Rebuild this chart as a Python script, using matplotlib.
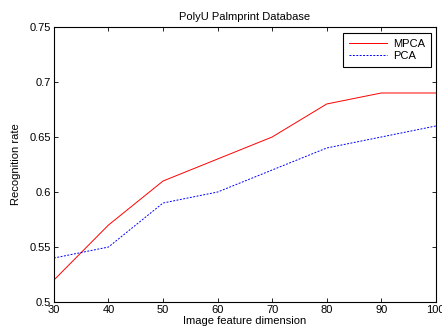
import matplotlib
matplotlib.use("Agg")
import matplotlib.pyplot as plt

dims = [30, 40, 50, 60, 70, 80, 90, 100]
mpca = [0.52, 0.57, 0.61, 0.63, 0.65, 0.68, 0.69, 0.69]
pca = [0.54, 0.55, 0.59, 0.60, 0.62, 0.64, 0.65, 0.66]
xticks = [30, 40, 50, 60, 70, 80, 90, 100]
yticks = [0.5, 0.55, 0.6, 0.65, 0.7, 0.75]
ytick_labels = ["0.5", "0.55", "0.6", "0.65", "0.7", "0.75"]

plt.rcParams['font.family'] = ['Liberation Sans', 'DejaVu Sans']
plt.rcParams['font.size'] = 8

fig = plt.figure(figsize=(4.42, 3.33), dpi=100)
ax = fig.add_axes([0.122, 0.093, 0.864, 0.826])
ax.plot(dims, mpca, color='red', linewidth=0.7, label='MPCA')
ax.plot(dims, pca, color='blue', linewidth=0.7, linestyle=(0, (2, 1.5)), label='PCA')
ax.set_xlim(30, 100)
ax.set_ylim(0.5, 0.75)
ax.set_xticks(xticks)
ax.set_yticks(yticks)
ax.set_yticklabels(ytick_labels)
ax.tick_params(direction='in', top=True, right=True, length=3, width=0.6, pad=2)
for s in ax.spines.values():
    s.set_linewidth(0.8)
ax.set_title('PolyU Palmprint Database', fontsize=8, pad=5)
ax.set_xlabel('Image feature dimension', labelpad=1)
ax.set_ylabel('Recognition rate', labelpad=6)
leg = ax.legend(loc='upper right', fancybox=False, edgecolor='black', framealpha=1,
                handlelength=3.4, borderpad=0.5, labelspacing=0.25, handletextpad=0.6,
                borderaxespad=0, bbox_to_anchor=(0.987, 0.978))
leg.get_frame().set_linewidth(0.8)
fig.savefig('out.png', dpi=100)
